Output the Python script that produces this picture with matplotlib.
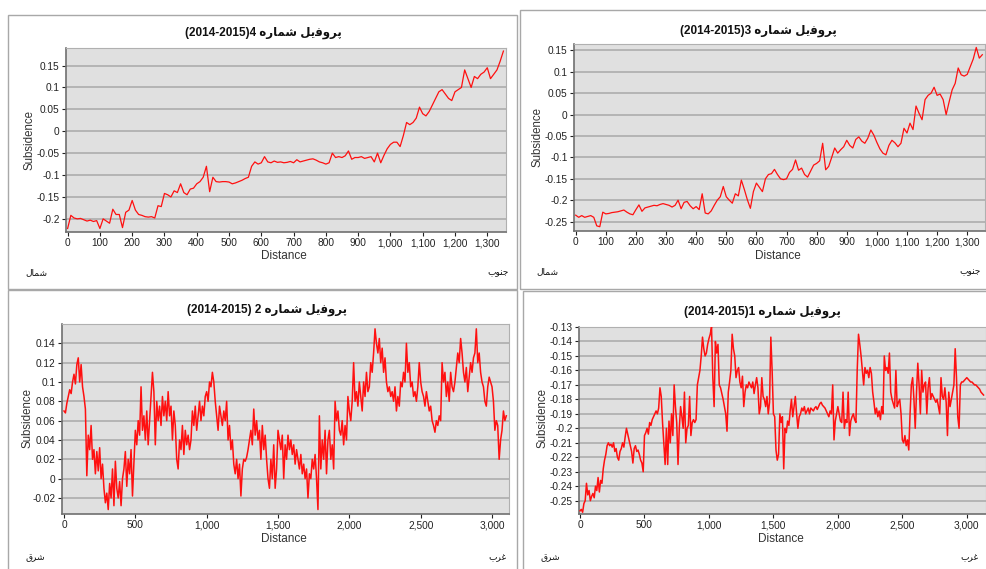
import numpy as np
import matplotlib
matplotlib.use("Agg")
import matplotlib.pyplot as plt
from matplotlib.patches import Rectangle
from matplotlib.ticker import FixedLocator, FuncFormatter

W, H = 987, 569

# ---------------- data ----------------
# Profile 4 (top-left), distance step 10 from 0 to 1350
dist4_step = 10
subs4 = [
    -0.222, -0.192, -0.198, -0.200, -0.199, -0.202, -0.205, -0.203, -0.206, -0.204,
    -0.222, -0.200, -0.205, -0.210, -0.178, -0.190, -0.190, -0.220, -0.185, -0.180,
    -0.158, -0.180, -0.190, -0.192, -0.195, -0.196, -0.195, -0.198, -0.170, -0.172,
    -0.142, -0.145, -0.150, -0.136, -0.140, -0.120, -0.140, -0.145, -0.132, -0.130,
    -0.120, -0.115, -0.105, -0.080, -0.138, -0.105, -0.115, -0.116, -0.115, -0.115,
    -0.116, -0.120, -0.118, -0.115, -0.112, -0.108, -0.105, -0.080, -0.070, -0.075,
    -0.072, -0.058, -0.070, -0.072, -0.068, -0.071, -0.070, -0.072, -0.071, -0.069,
    -0.072, -0.065, -0.070, -0.068, -0.066, -0.064, -0.063, -0.066, -0.070, -0.072,
    -0.075, -0.072, -0.050, -0.060, -0.058, -0.060, -0.056, -0.045, -0.064, -0.060,
    -0.060, -0.058, -0.062, -0.060, -0.058, -0.070, -0.050, -0.072, -0.055, -0.040,
    -0.030, -0.025, -0.025, -0.035, -0.010, 0.020, 0.015, 0.020, 0.030, 0.055,
    0.040, 0.035, 0.045, 0.060, 0.075, 0.090, 0.095, 0.085, 0.075, 0.070,
    0.090, 0.095, 0.100, 0.140, 0.120, 0.100, 0.125, 0.120, 0.130, 0.135,
    0.145, 0.120, 0.130, 0.140, 0.160, 0.183,
]

# Profile 3 (top-right), distance step 10 from 0 to 1350
dist3_step = 10
subs3 = [
    -0.235, -0.240, -0.236, -0.240, -0.238, -0.236, -0.240, -0.260, -0.262, -0.228,
    -0.232, -0.231, -0.229, -0.228, -0.227, -0.225, -0.223, -0.228, -0.232, -0.234,
    -0.222, -0.211, -0.226, -0.218, -0.216, -0.214, -0.212, -0.213, -0.210, -0.208,
    -0.210, -0.212, -0.216, -0.212, -0.200, -0.220, -0.205, -0.203, -0.213, -0.220,
    -0.215, -0.222, -0.185, -0.230, -0.232, -0.225, -0.212, -0.200, -0.192, -0.168,
    -0.192, -0.200, -0.207, -0.185, -0.190, -0.153, -0.175, -0.199, -0.219, -0.180,
    -0.160, -0.170, -0.180, -0.150, -0.140, -0.138, -0.128, -0.140, -0.150, -0.152,
    -0.150, -0.135, -0.128, -0.106, -0.130, -0.125, -0.140, -0.146, -0.132, -0.118,
    -0.114, -0.108, -0.067, -0.129, -0.121, -0.100, -0.078, -0.090, -0.082, -0.075,
    -0.060, -0.072, -0.078, -0.058, -0.052, -0.062, -0.067, -0.055, -0.036, -0.048,
    -0.065, -0.080, -0.090, -0.094, -0.072, -0.060, -0.066, -0.075, -0.067, -0.032,
    -0.043, -0.020, -0.035, 0.020, 0.003, -0.012, 0.035, 0.045, 0.050, 0.064,
    0.045, 0.048, 0.035, 0.000, 0.030, 0.058, 0.073, 0.109, 0.093, 0.090,
    0.094, 0.112, 0.130, 0.157, 0.132, 0.140,
]

# Profile 2 (bottom-left), distance step 10 from 0 to 3100
dist2_step = 10
subs2 = [
    0.070, 0.068, 0.078, 0.085, 0.092, 0.088, 0.100, 0.108, 0.098, 0.118,
    0.125, 0.100, 0.118, 0.095, 0.085, 0.072, 0.003, 0.045, 0.030, 0.055,
    0.020, 0.030, 0.005, 0.028, 0.008, 0.032, 0.000, 0.015, -0.010, -0.025,
    -0.015, -0.032, -0.005, -0.020, 0.010, -0.028, 0.018, -0.010, -0.020, -0.003,
    -0.028, 0.000, 0.010, 0.028, -0.008, 0.020, 0.005, 0.030, -0.018, 0.015,
    0.050, 0.035, 0.060, 0.045, 0.095, 0.050, 0.065, 0.040, 0.070, 0.035,
    0.060, 0.085, 0.110, 0.090, 0.035, 0.080, 0.060, 0.075, 0.055, 0.085,
    0.065, 0.080, 0.060, 0.090, 0.065, 0.075, 0.040, 0.070, 0.055, 0.020,
    0.010, 0.040, 0.030, 0.055, 0.025, 0.050, 0.035, 0.045, 0.030, 0.040,
    0.070, 0.055, 0.075, 0.050, 0.065, 0.080, 0.060, 0.075, 0.065, 0.085,
    0.090, 0.080, 0.100, 0.095, 0.110, 0.100, 0.080, 0.065, 0.050, 0.075,
    0.065, 0.055, 0.070, 0.060, 0.080, 0.040, 0.055, 0.030, 0.040, 0.015,
    0.005, 0.020, 0.000, 0.015, -0.018, 0.010, 0.020, 0.018, 0.022, 0.030,
    0.040, 0.050, 0.035, 0.072, 0.045, 0.060, 0.040, 0.050, 0.020, 0.055,
    0.030, 0.045, 0.020, 0.000, -0.010, 0.020, 0.000, 0.035, -0.010, 0.010,
    0.050, 0.040, 0.030, 0.045, 0.000, 0.035, 0.020, 0.045, 0.030, 0.040,
    0.025, 0.035, 0.015, 0.030, 0.020, 0.010, 0.025, 0.005, 0.015, 0.000,
    0.010, -0.020, 0.005, 0.000, 0.020, 0.010, 0.025, 0.000, -0.032, 0.065,
    0.010, 0.040, 0.020, 0.050, 0.005, 0.040, 0.050, 0.020, 0.035, 0.010,
    0.080, 0.060, 0.070, 0.050, 0.045, 0.060, 0.035, 0.055, 0.040, 0.085,
    0.070, 0.060, 0.080, 0.120, 0.080, 0.090, 0.075, 0.100, 0.085, 0.070,
    0.100, 0.085, 0.110, 0.090, 0.095, 0.120, 0.110, 0.130, 0.155, 0.140,
    0.130, 0.145, 0.120, 0.135, 0.110, 0.125, 0.100, 0.090, 0.095, 0.085,
    0.090, 0.080, 0.095, 0.070, 0.085, 0.075, 0.100, 0.095, 0.110, 0.100,
    0.140, 0.110, 0.120, 0.095, 0.100, 0.085, 0.090, 0.080, 0.095, 0.120,
    0.100, 0.090, 0.085, 0.075, 0.090, 0.080, 0.070, 0.075, 0.060, 0.055,
    0.048, 0.060, 0.055, 0.065, 0.060, 0.120, 0.100, 0.110, 0.085, 0.100,
    0.080, 0.110, 0.095, 0.090, 0.100, 0.115, 0.130, 0.120, 0.145, 0.130,
    0.110, 0.100, 0.115, 0.090, 0.105, 0.120, 0.110, 0.125, 0.130, 0.155,
    0.120, 0.130, 0.110, 0.100, 0.095, 0.080, 0.075, 0.095, 0.105, 0.100,
    0.095, 0.080, 0.050, 0.060, 0.055, 0.020, 0.040, 0.050, 0.070, 0.060,
    0.065,
]

# Profile 1 (bottom-right), distance step 10 from 0 to 3130
dist1_step = 10
subs1 = [
    -0.257, -0.256, -0.258, -0.252, -0.250, -0.238, -0.246, -0.243, -0.250, -0.247,
    -0.245, -0.248, -0.240, -0.243, -0.234, -0.244, -0.236, -0.238, -0.228, -0.222,
    -0.218, -0.212, -0.210, -0.212, -0.211, -0.213, -0.210, -0.216, -0.214, -0.220,
    -0.222, -0.216, -0.214, -0.210, -0.213, -0.206, -0.200, -0.204, -0.208, -0.212,
    -0.216, -0.224, -0.214, -0.212, -0.216, -0.215, -0.218, -0.222, -0.224, -0.230,
    -0.205, -0.203, -0.200, -0.204, -0.196, -0.198, -0.194, -0.192, -0.190, -0.188,
    -0.190, -0.186, -0.172, -0.178, -0.196, -0.210, -0.225, -0.200, -0.225, -0.195,
    -0.210, -0.190, -0.205, -0.170, -0.185, -0.196, -0.225, -0.200, -0.185, -0.192,
    -0.200, -0.175, -0.210, -0.200, -0.198, -0.178, -0.205, -0.196, -0.194, -0.196,
    -0.194, -0.170, -0.165, -0.160, -0.150, -0.137, -0.145, -0.150, -0.148, -0.142,
    -0.138, -0.135, -0.130, -0.165, -0.185, -0.140, -0.148, -0.142, -0.170, -0.172,
    -0.176, -0.180, -0.185, -0.190, -0.202, -0.175, -0.168, -0.160, -0.135, -0.145,
    -0.150, -0.165, -0.160, -0.158, -0.168, -0.172, -0.164, -0.185, -0.175, -0.170,
    -0.172, -0.168, -0.170, -0.172, -0.168, -0.176, -0.170, -0.165, -0.172, -0.190,
    -0.185, -0.165, -0.178, -0.180, -0.185, -0.178, -0.190, -0.182, -0.137, -0.160,
    -0.190, -0.192, -0.215, -0.222, -0.218, -0.190, -0.196, -0.192, -0.228, -0.200,
    -0.203, -0.195, -0.198, -0.188, -0.180, -0.192, -0.185, -0.178, -0.190, -0.200,
    -0.192, -0.190, -0.186, -0.188, -0.185, -0.190, -0.188, -0.186, -0.190, -0.186,
    -0.187, -0.188, -0.186, -0.185, -0.187, -0.185, -0.183, -0.182, -0.184, -0.185,
    -0.186, -0.188, -0.190, -0.192, -0.188, -0.190, -0.170, -0.208, -0.195, -0.190,
    -0.185, -0.190, -0.195, -0.196, -0.175, -0.200, -0.194, -0.196, -0.175, -0.205,
    -0.195, -0.192, -0.190, -0.194, -0.196, -0.160, -0.135, -0.142, -0.150, -0.160,
    -0.170, -0.158, -0.162, -0.160, -0.165, -0.158, -0.162, -0.175, -0.182, -0.190,
    -0.186, -0.192, -0.188, -0.194, -0.185, -0.190, -0.150, -0.160, -0.158, -0.162,
    -0.148, -0.175, -0.180, -0.183, -0.186, -0.160, -0.185, -0.182, -0.180, -0.190,
    -0.208, -0.210, -0.205, -0.212, -0.208, -0.215, -0.190, -0.170, -0.165, -0.180,
    -0.200, -0.175, -0.155, -0.170, -0.190, -0.160, -0.175, -0.170, -0.168, -0.190,
    -0.172, -0.165, -0.180, -0.176, -0.178, -0.180, -0.182, -0.180, -0.185, -0.190,
    -0.165, -0.178, -0.180, -0.172, -0.182, -0.205, -0.175, -0.185, -0.180, -0.175,
    -0.170, -0.145, -0.165, -0.192, -0.200, -0.170, -0.168, -0.168, -0.167, -0.166,
    -0.165, -0.166, -0.167, -0.168, -0.168, -0.169, -0.170, -0.170, -0.171, -0.172,
    -0.173, -0.175, -0.176, -0.177,
]

# Y tick values per panel
yticks4 = [-0.2, -0.15, -0.1, -0.05, 0, 0.05, 0.1, 0.15]
yticks3 = [-0.25, -0.2, -0.15, -0.1, -0.05, 0, 0.05, 0.1, 0.15]
yticks2 = [-0.02, 0, 0.02, 0.04, 0.06, 0.08, 0.1, 0.12, 0.14]
yticks1 = [-0.25, -0.24, -0.23, -0.22, -0.21, -0.2, -0.19, -0.18, -0.17,
           -0.16, -0.15, -0.14, -0.13]
xticks_short = list(range(0, 1301, 100))
xticks_long = list(range(0, 3001, 500))

# Titles and direction labels (Persian, visual order with presentation forms)
shomare = "\uFEE9\uFEAD\uFE8E\uFEE4\uFEB7"
profil = "\uFEDE\uFBFE\uFED3\uFEED\uFEAE\uFB58"
title4 = "(2014-2015)4 " + shomare + " " + profil
title3 = "(2014-2015)3 " + shomare + " " + profil
title2 = "(2014-2015) 2 " + shomare + " " + profil
title1 = "(2014-2015)1 " + shomare + " " + profil
north = "\uFEDD\uFE8E\uFEE4\uFEB7"
south = "\uFE8F\uFEEE\uFEE8\uFE9F"
east = "\uFED5\uFEAE\uFEB7"
west = "\uFE8F\uFEAE\uFECF"

# ---------------- drawing ----------------
FAM = ["Liberation Sans", "DejaVu Sans"]
plt.rcParams["font.family"] = FAM

fig = plt.figure(figsize=(W / 100, H / 100), dpi=100)
fig.patch.set_facecolor("white")


def fx(px):
    return px / W


def fy(py):
    return 1 - py / H


# panel frames (pixel boxes)
for (x0, y0, x1, y1) in [(8, 15, 517, 289), (520, 10, 990, 289),
                         (8, 290, 517, 575), (523, 291, 990, 575)]:
    fig.patches.append(Rectangle((fx(x0), fy(y1)), fx(x1 - x0), (y1 - y0) / H,
                                 transform=fig.transFigure, fill=False,
                                 edgecolor="#a8a8a8", lw=1.0, zorder=0))


def yfmt(v, pos):
    s = f"{v:.2f}".rstrip("0").rstrip(".")
    if s in ("-0", "-0."):
        s = "0"
    return s


def xfmt(v, pos):
    return f"{v:,.0f}"


def dir_labels(lx, rx, y, ltxt, rtxt):
    fig.text(fx(lx), fy(y), ltxt, ha="center", va="center", fontsize=6.5,
             color="#111111", family=["DejaVu Sans"])
    fig.text(fx(rx), fy(y), rtxt, ha="center", va="center", fontsize=6.5,
             color="#111111", family=["DejaVu Sans"])


def panel(rect_px, xlim, ylim, dist_step, values, yticks, xticks,
          title, title_px, dist_px, sub_px, lw):
    x0, y0, x1, y1 = rect_px
    ax = fig.add_axes([fx(x0), fy(y1), fx(x1 - x0), (y1 - y0) / H])
    ax.set_facecolor("#e0e0e0")
    dist = np.arange(len(values)) * dist_step
    ax.plot(dist, values, color="#ff1010", lw=lw, zorder=3)
    ax.set_xlim(*xlim)
    ax.set_ylim(*ylim)
    ax.yaxis.set_major_locator(FixedLocator(yticks))
    ax.xaxis.set_major_locator(FixedLocator(xticks))
    ax.yaxis.set_major_formatter(FuncFormatter(yfmt))
    ax.xaxis.set_major_formatter(FuncFormatter(xfmt))
    ax.grid(axis="y", color="#a9a9a9", lw=1.1, zorder=1)
    ax.set_axisbelow(True)
    ax.tick_params(axis="both", labelsize=7.3, colors="#222222",
                   length=3, width=0.8, direction="out", pad=1.5)
    for s in ["left", "bottom"]:
        ax.spines[s].set_color("#707070")
        ax.spines[s].set_linewidth(1.2)
    for s in ["top", "right"]:
        ax.spines[s].set_color("#b0b0b0")
        ax.spines[s].set_linewidth(0.8)
    fig.text(fx(title_px[0]), fy(title_px[1]), title, ha="center",
             va="center", fontsize=8.5, fontweight="bold", color="#111111")
    fig.text(fx(dist_px[0]), fy(dist_px[1]), "Distance", ha="center",
             va="center", fontsize=8.5, color="#333333")
    fig.text(fx(sub_px[0]), fy(sub_px[1]), "Subsidence", ha="center",
             va="center", fontsize=8.3, color="#333333", rotation=90)
    return ax


panel((66, 48, 506, 232), (-5, 1358), (-0.23, 0.19), dist4_step, subs4,
      yticks4, xticks_short, title4, (263, 33), (284, 256), (30, 140), 0.9)
dir_labels(36, 498, 273, north, south)

panel((574, 44, 985, 231), (-5.6, 1359), (-0.272, 0.165), dist3_step, subs3,
      yticks3, xticks_short, title3, (758, 31), (778, 256), (538, 137), 0.9)
dir_labels(547, 970, 272, north, south)

panel((62, 324, 509, 514), (-14, 3119), (-0.0366, 0.160), dist2_step, subs2,
      yticks2, xticks_long, title2, (267, 310), (284, 539), (28, 418), 1.1)
dir_labels(35, 498, 558, east, west)

panel((579, 327, 986, 514), (-8, 3149), (-0.2592, -0.13), dist1_step, subs1,
      yticks1, xticks_long, title1, (762, 312), (781, 539), (543, 418), 1.1)
dir_labels(550, 970, 558, east, west)

fig.savefig("out.png", dpi=100, facecolor="white")
